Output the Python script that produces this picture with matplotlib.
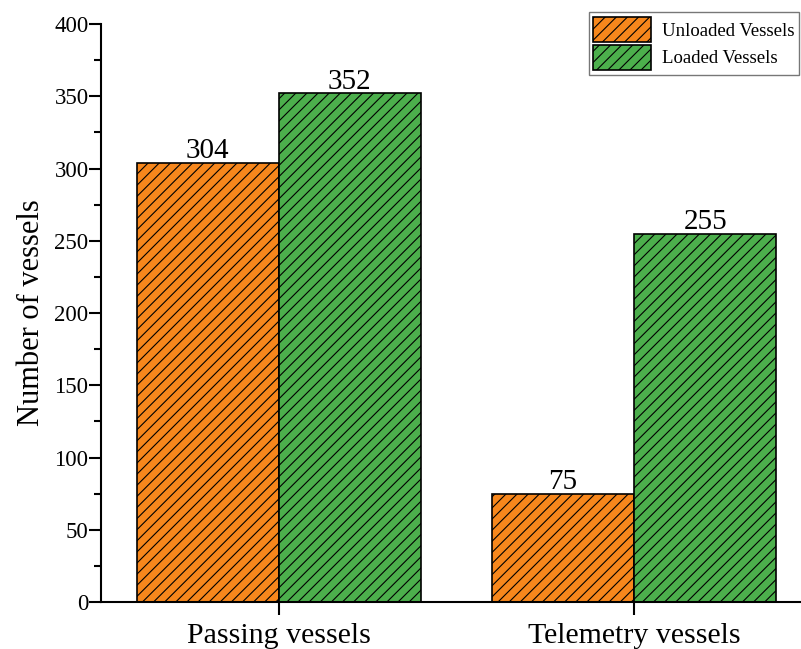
import numpy as np
import matplotlib.pyplot as plt

plt.rcParams['font.family'] = ['Liberation Serif', 'DejaVu Serif']
plt.rcParams['hatch.linewidth'] = 0.8

categories = ['Passing vessels', 'Telemetry vessels']
unloaded = [304, 75]
loaded = [352, 255]
series_names = ['Unloaded Vessels', 'Loaded Vessels']

fig = plt.figure(figsize=(8.01, 6.49), dpi=100)
ax = fig.add_axes([0.1261, 0.0724, 0.874, 0.8906])

x = np.arange(len(categories))
w = 0.4
b1 = ax.bar(x - w / 2, unloaded, w, color='#F7871C', edgecolor='black',
            linewidth=1.2, hatch='///', label=series_names[0])
b2 = ax.bar(x + w / 2, loaded, w, color='#4CAF4C', edgecolor='black',
            linewidth=1.2, hatch='///', label=series_names[1])

for bars in (b1, b2):
    for r in bars:
        ax.text(r.get_x() + r.get_width() / 2, r.get_height() - 1,
                f'{int(r.get_height())}', ha='center', va='bottom', fontsize=21)

ax.set_xlim(-0.5, 1.47)
ax.set_ylim(0, 400)
ax.set_yticks(np.arange(0, 401, 50))
ax.set_yticks(np.arange(25, 400, 50), minor=True)
ax.set_xticks(x)
ax.set_xticklabels(categories, fontsize=21.5)
ax.tick_params(axis='y', labelsize=16.5, length=9, width=1.5, pad=0)
ax.tick_params(axis='y', which='minor', length=5, width=1.5)
ax.tick_params(axis='x', length=9, width=1.5, pad=6)
ax.set_ylabel('Number of vessels', fontsize=22, labelpad=6)

for s in ['top', 'right']:
    ax.spines[s].set_visible(False)
for s in ['left', 'bottom']:
    ax.spines[s].set_linewidth(1.5)

leg = ax.legend(loc='upper right', bbox_to_anchor=(0.997, 1.02), fontsize=13.5,
                fancybox=False, edgecolor='#555555', handlelength=3.1,
                handleheight=1.7, borderpad=0.25, labelspacing=0.12,
                handletextpad=0.55, borderaxespad=0.0)
leg.get_frame().set_linewidth(1.0)

fig.savefig('out.png', dpi=100)
